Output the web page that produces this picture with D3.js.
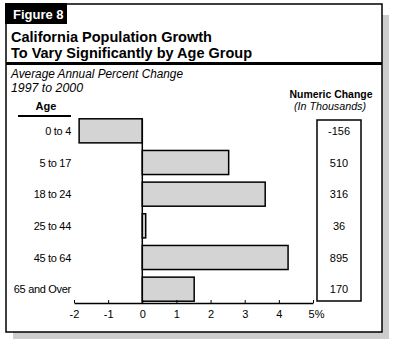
<!DOCTYPE html>
<html><head><meta charset="utf-8">
<script src="https://cdn.jsdelivr.net/npm/d3@7/dist/d3.min.js"></script>
<style>body{margin:0;background:#fff}svg{display:block}text{font-family:"Liberation Sans",Arial,sans-serif}</style>
</head><body>
<script>
const categories = ["0 to 4","5 to 17","18 to 24","25 to 44","45 to 64","65 and Over"];
const percentChange = [-1.85, 2.53, 3.6, 0.1, 4.27, 1.52];
const numericChange = ["-156","510","316","36","895","170"];
const tickValues = [-2,-1,0,1,2,3,4,5];
const tickLabels = ["-2","-1","0","1","2","3","4","5%"];

const W=395,H=345;
const svg=d3.select("body").append("svg").attr("width",W).attr("height",H);

// shadow + frame
svg.append("rect").attr("x",13).attr("y",15).attr("width",376).attr("height",324).attr("fill","#cdcdcd");
svg.append("rect").attr("x",6).attr("y",4).attr("width",376).attr("height",328).attr("fill","#fff").attr("stroke","#000").attr("stroke-width",1.5);
// figure label
svg.append("rect").attr("x",5).attr("y",3).attr("width",62).attr("height",21).attr("fill","#000");
svg.append("text").attr("x",13).attr("y",19).attr("fill","#fff").attr("font-weight","bold").attr("font-size",13).text("Figure 8");
// title
svg.append("text").attr("x",11).attr("y",42).attr("font-weight","bold").attr("font-size",15).attr("textLength",201).attr("lengthAdjust","spacingAndGlyphs").text("California Population Growth");
svg.append("text").attr("x",11).attr("y",58).attr("font-weight","bold").attr("font-size",15).attr("textLength",241).attr("lengthAdjust","spacingAndGlyphs").text("To Vary Significantly by Age Group");
svg.append("rect").attr("x",6).attr("y",62).attr("width",376).attr("height",3).attr("fill","#000");
// subtitle
svg.append("text").attr("x",11).attr("y",78).attr("font-style","italic").attr("font-size",12).attr("textLength",172).attr("lengthAdjust","spacingAndGlyphs").text("Average Annual Percent Change");
svg.append("text").attr("x",11).attr("y",92).attr("font-style","italic").attr("font-size",12).attr("textLength",72).attr("lengthAdjust","spacingAndGlyphs").text("1997 to 2000");
// numeric header
svg.append("text").attr("x",331).attr("y",98).attr("text-anchor","middle").attr("font-weight","bold").attr("font-size",11).attr("textLength",83).attr("lengthAdjust","spacingAndGlyphs").text("Numeric Change");
svg.append("text").attr("x",330).attr("y",110).attr("text-anchor","middle").attr("font-style","italic").attr("font-size",11).attr("textLength",72).attr("lengthAdjust","spacingAndGlyphs").text("(In Thousands)");
// Age header
svg.append("text").attr("x",46).attr("y",110).attr("text-anchor","middle").attr("font-weight","bold").attr("font-size",11).text("Age");
svg.append("rect").attr("x",18).attr("y",115).attr("width",53).attr("height",2).attr("fill","#000");

const x=d3.scaleLinear().domain([-2,5]).range([74,313]);
const y=d3.scaleBand().domain(categories).range([115,305]).paddingInner(0.24).paddingOuter(0.12);

// bars
svg.append("g").selectAll("rect").data(categories).join("rect")
  .attr("x",(d,i)=>x(Math.min(0,percentChange[i])))
  .attr("y",d=>y(d))
  .attr("width",(d,i)=>Math.abs(x(percentChange[i])-x(0)))
  .attr("height",y.bandwidth())
  .attr("fill","#d4d4d4").attr("stroke","#000").attr("stroke-width",1.5);
// zero line
svg.append("line").attr("x1",x(0)).attr("x2",x(0)).attr("y1",y(categories[0])).attr("y2",303).attr("stroke","#000").attr("stroke-width",1.5);
// category labels
svg.append("g").selectAll("text").data(categories).join("text")
  .attr("x",71).attr("y",d=>y(d)+y.bandwidth()/2+4).attr("text-anchor","end").attr("font-size",11).attr("letter-spacing",-0.3).text(d=>d);

// x axis
const ax=svg.append("g").attr("transform","translate(0,303)")
  .call(d3.axisBottom(x).tickValues(tickValues).tickSize(-3).tickPadding(7).tickFormat((d,i)=>tickLabels[i]).tickSizeOuter(0));
ax.select(".domain").attr("stroke","#000").attr("stroke-width",1.5);
ax.selectAll(".tick line").attr("stroke","#000").attr("stroke-width",1);
ax.selectAll(".tick text").attr("font-size",11).attr("fill","#000").attr("font-family","Liberation Sans, Arial, sans-serif");
ax.selectAll(".tick text").filter((d,i)=>i===tickValues.length-1).attr("dx",3);

// numeric box
svg.append("rect").attr("x",317).attr("y",120).attr("width",44).attr("height",181).attr("fill","#fff").attr("stroke","#000").attr("stroke-width",1.5);
svg.append("g").selectAll("text").data(categories).join("text")
  .attr("x",339).attr("y",d=>y(d)+y.bandwidth()/2+4).attr("text-anchor","middle").attr("font-size",11).text((d,i)=>numericChange[i]);
</script>
</body></html>
